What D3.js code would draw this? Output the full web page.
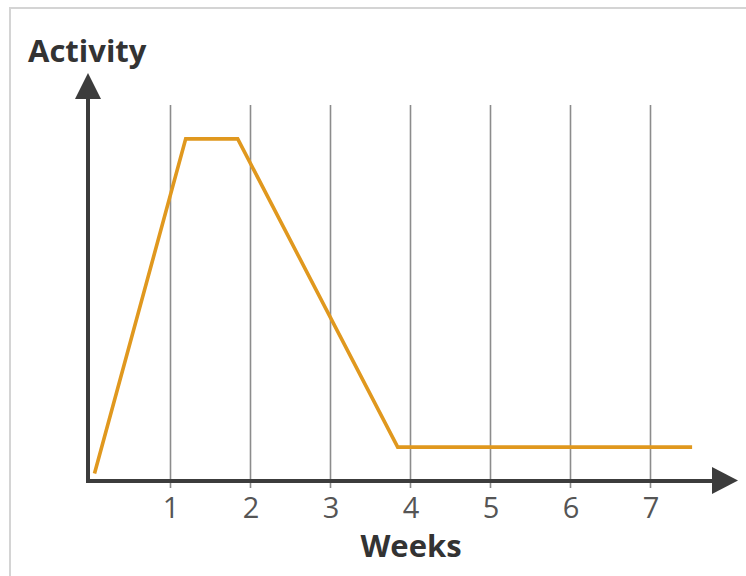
<!DOCTYPE html>
<html>
<head>
<meta charset="utf-8">
<script src="https://cdn.jsdelivr.net/npm/d3@7"></script>
<style>
  html, body { margin: 0; padding: 0; background: #fff; }
  svg { display: block; font-family: "Open Sans", sans-serif; }
</style>
</head>
<body>
<div id="chart"></div>
<script>
// week ticks shown under the x axis
const weekTicks = [1, 2, 3, 4, 5, 6, 7];
// activity curve (week, activity 0..10)
const weeks = [0.05, 1.19, 1.84, 3.84, 7.52];
const activity = [0.2, 9.1, 9.1, 0.9, 0.9];

const width = 746, height = 576;
const axisX = 88, axisY = 481;

const svg = d3.select("#chart")
    .append("svg")
    .attr("width", width)
    .attr("height", height);

// light frame round the picture
svg.append("rect")
    .attr("x", 10)
    .attr("y", 8)
    .attr("width", width + 20)
    .attr("height", height + 20)
    .attr("fill", "none")
    .attr("stroke", "#d4d4d4")
    .attr("stroke-width", 2);

const x = d3.scaleLinear()
    .domain([0, 8])
    .range([90.5, 730.5]);

const y = d3.scaleLinear()
    .domain([0, 10])
    .range([axisY, 105]);

// vertical grid lines (they poke through the axis as ticks)
svg.append("g")
    .selectAll("line")
    .data(weekTicks)
    .join("line")
    .attr("x1", d => x(d))
    .attr("x2", d => x(d))
    .attr("y1", y(10))
    .attr("y2", axisY + 7)
    .attr("stroke", "#8c8c8c")
    .attr("stroke-width", 1.6);

// tick labels via a bottom axis with the line hidden
const xAxis = d3.axisBottom(x)
    .tickValues(weekTicks)
    .tickSize(0)
    .tickPadding(0);

const gx = svg.append("g")
    .attr("transform", `translate(0,${axisY + 16})`)
    .call(xAxis);
gx.select(".domain").remove();
gx.selectAll("text")
    .attr("dy", "0.71em")
    .attr("font-family", "Open Sans, sans-serif")
    .attr("font-size", 29)
    .attr("fill", "#555");

// axes with arrow heads
const axisColor = "#3c3c3c";
svg.append("line")
    .attr("x1", axisX - 2)
    .attr("x2", 712)
    .attr("y1", axisY)
    .attr("y2", axisY)
    .attr("stroke", axisColor)
    .attr("stroke-width", 4);
svg.append("path")
    .attr("d", `M712,467L738,480.5L712,494Z`)
    .attr("fill", axisColor);

svg.append("line")
    .attr("x1", axisX)
    .attr("x2", axisX)
    .attr("y1", axisY + 2)
    .attr("y2", 98)
    .attr("stroke", axisColor)
    .attr("stroke-width", 4);
svg.append("path")
    .attr("d", `M75,99L88,73L101,99Z`)
    .attr("fill", axisColor);

// activity line
const line = d3.line()
    .x((d, i) => x(weeks[i]))
    .y(d => y(d));

svg.append("path")
    .datum(activity)
    .attr("d", line)
    .attr("fill", "none")
    .attr("stroke", "#e0981e")
    .attr("stroke-width", 3.6)
    .attr("stroke-linejoin", "miter");

// axis titles
svg.append("text")
    .attr("x", 28)
    .attr("y", 62)
    .attr("font-size", 31)
    .attr("font-weight", "bold")
    .attr("fill", "#333")
    .text("Activity");

svg.append("text")
    .attr("x", 411)
    .attr("y", 557)
    .attr("text-anchor", "middle")
    .attr("font-size", 31)
    .attr("font-weight", "bold")
    .attr("fill", "#333")
    .text("Weeks");
</script>
</body>
</html>
